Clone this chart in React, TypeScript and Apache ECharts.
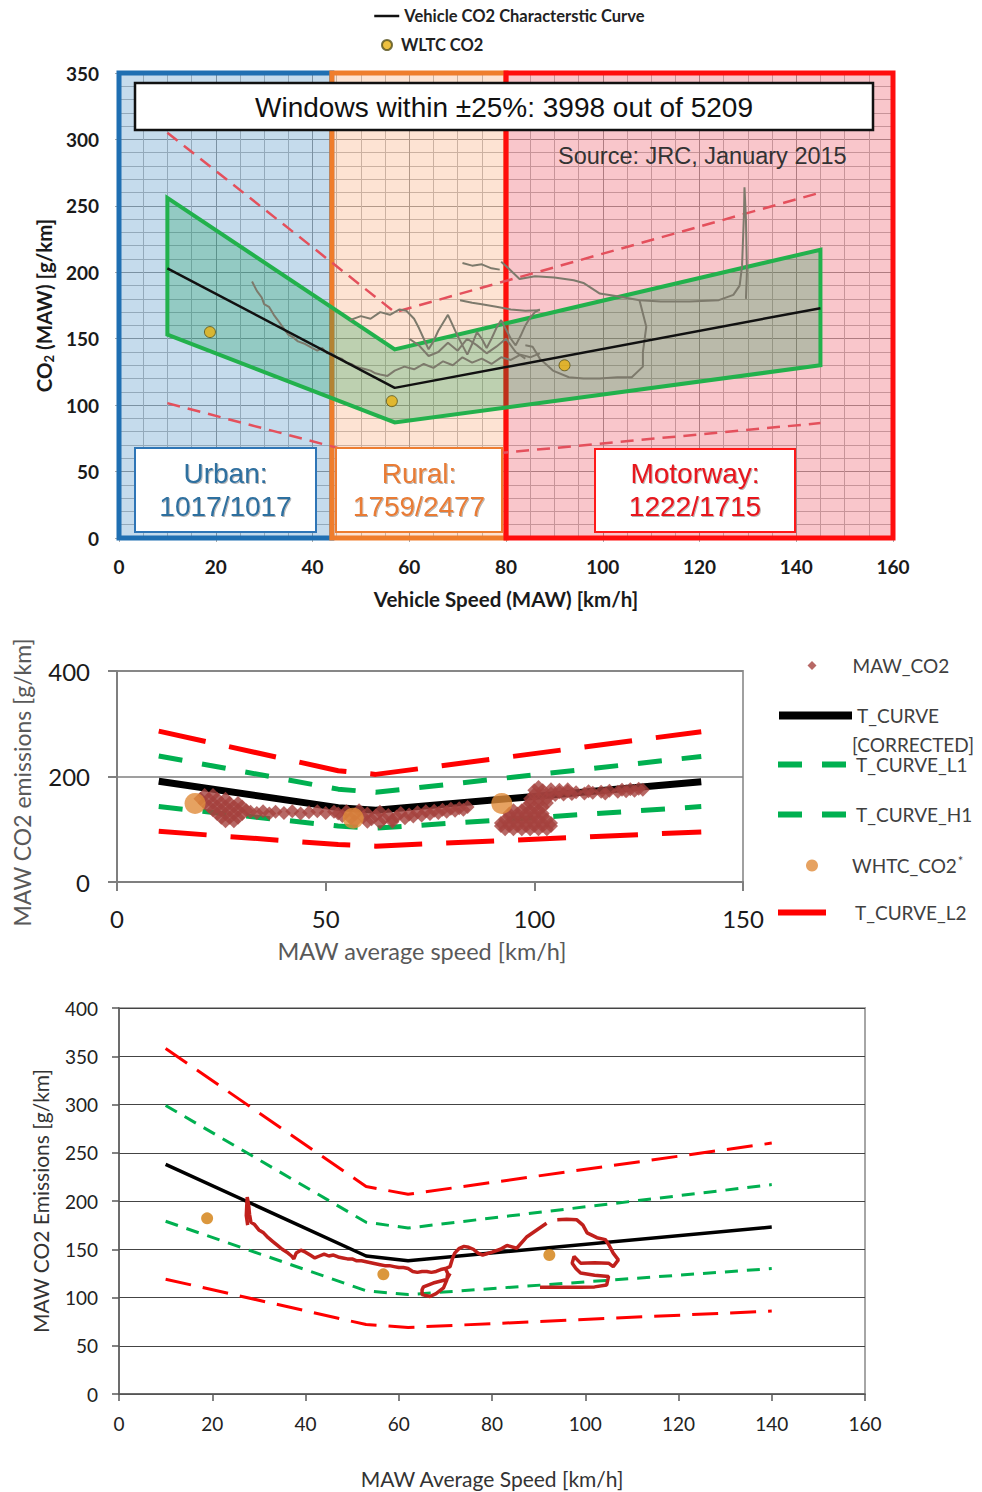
import React, { useEffect, useRef } from "react";
import * as echarts from "echarts";

// ---------- TOP PANEL DATA ----------
const regionBounds = [0, 44, 80, 160];
const topCurve = [[10, 203], [57, 113], [145, 173]];
const topBandUpper = [[10, 256], [57, 142], [145, 217]];
const topBandLower = [[10, 153], [57, 87], [145, 130]];
const topLimitUpper = [[10, 305], [57, 170], [145, 260]];
const topLimitLower = [[10, 101.5], [57, 56.5], [145, 86.5]];
const wltcPoints = [[18.8, 155], [56.4, 103], [92.1, 130]];
const traceUrbanRural = [
  [27.5, 193], [28.5, 186], [29.5, 181], [30, 176], [31, 174], [32, 168], [33, 163], [34, 158], [35, 153],
  [36, 151], [37, 148], [38.5, 146], [40, 143], [41, 141], [42, 143], [43, 139], [44, 139], [45, 136],
  [46, 135], [47, 132], [48, 131], [49, 129], [50, 128], [51, 127], [52, 126], [53, 124], [54, 123],
  [55.5, 122], [57, 126], [59, 129], [61, 127], [63, 131], [65, 128], [67, 133], [69, 130], [71, 136],
  [73, 132], [75, 135], [77, 131], [79, 136], [81, 134], [83, 138], [85, 136], [87, 139],
];
const traceRuralUpper = [
  [47.7, 164], [50, 167], [52, 165], [54, 170], [56, 168], [58, 172], [59.4, 171], [61, 165], [62, 158],
  [63, 150], [64, 142], [65, 148], [66, 156], [67, 162], [68, 168], [69, 160], [70, 152], [71, 145],
  [72, 138], [73, 146], [74, 155], [75, 150], [76, 143], [77, 150], [78, 158], [79, 164], [80, 157],
  [81, 150], [82, 145], [83, 152], [84, 160], [85, 166], [86, 170], [87, 172],
];
const traceRuralMid = [
  [60, 150], [62, 145], [64, 137], [66, 140], [68, 147], [70, 141], [72, 150], [74, 145], [76, 139],
  [78, 144], [80, 150], [82, 140], [84, 135],
];
const traceRuralTop = [[70.5, 179], [73, 177], [75, 176], [78, 174], [81, 172], [84, 171], [87, 171.5]];
const traceMotorwayLow = [
  [84, 145], [85.5, 144], [87, 135], [89.7, 126], [93, 121], [96, 120], [99.4, 120], [103, 121],
  [106, 121], [108.3, 129], [108.3, 140], [109, 159], [107.6, 179],
];
const traceShort = [[71, 207], [73, 205], [75, 206], [77, 203], [78.7, 202]];
const traceMotorwayHigh = [
  [79, 208], [80.5, 203], [82.8, 195], [86, 197], [90, 196], [94, 194], [96, 192], [99.4, 184],
  [103, 182], [107.6, 179], [112, 178], [118, 178], [124, 179], [127, 183], [128.3, 190],
  [128.8, 205], [129, 225], [129.2, 245], [129.3, 264], [129.6, 240], [129.8, 200], [129.6, 180],
];

// ---------- MIDDLE PANEL DATA ----------
const midTCurve = [[10, 191], [53, 141], [62, 136], [140, 190]];
const midUpperRed = [[10, 286], [53, 211], [62, 204], [140, 285]];
const midUpperGreen = [[10, 239], [53, 176], [62, 170], [140, 238]];
const midLowerGreen = [[10, 143], [53, 106], [62, 102], [140, 143]];
const midLowerRed = [[10, 96], [53, 71], [62, 68], [140, 95]];
const midWhtc = [[18.7, 149], [56.6, 121], [92.2, 149]];
const midMaw = [
  // urban blob
  [21, 165], [23, 165], [20, 158], [22, 158], [24, 158], [26, 158], [21, 150], [23, 150], [25, 150], [27, 150],
  [29, 150], [22, 143], [24, 143], [26, 143], [28, 143], [30, 143], [23, 136], [25, 136], [27, 136], [29, 136],
  [31, 136], [24, 129], [26, 129], [28, 129], [30, 129], [25, 122], [27, 122], [29, 122], [26, 115], [28, 115],
  // trail
  [32, 133], [33.5, 131], [35, 134], [36.5, 130], [38, 133], [40, 131], [42, 134], [44, 130], [46, 132],
  [48, 134], [50, 131], [52, 133],
  // rural band
  [53, 130], [54, 125], [55, 134], [56, 121], [57, 128], [58, 136], [59, 123], [60, 130], [61, 119], [62, 126],
  [63, 133], [64, 120], [65, 127], [66, 118], [67, 124], [68, 131], [69, 121], [70, 128], [71, 124], [72, 132],
  [73, 126], [74, 134], [75, 129], [76, 135], [77, 131], [78, 137], [79, 133], [80, 139], [81, 135], [82, 140],
  [83, 137], [84, 142], [57, 115], [60, 114], [63, 113], [66, 114],
  // motorway blob
  [93, 100], [95, 100], [97, 100], [99, 100], [101, 100], [103, 100],
  [92, 106], [94, 106], [96, 106], [98, 106], [100, 106], [102, 106], [104, 106],
  [92, 112], [94, 112], [96, 112], [98, 112], [100, 112], [102, 112], [104, 112],
  [93, 118], [95, 118], [97, 118], [99, 118], [101, 118], [103, 118],
  [94, 124], [96, 124], [98, 124], [100, 124], [102, 124],
  [94, 130], [96, 130], [98, 130], [100, 130], [102, 130],
  [95, 136], [97, 136], [99, 136], [101, 136],
  [98, 142], [100, 142], [102, 142], [99, 150], [101, 150], [103, 150], [99, 158], [101, 158], [103, 158],
  [100, 166], [102, 166], [100, 174], [102, 174], [101, 180],
  // motorway trail
  [104, 168], [105, 165], [106, 170], [107, 166], [108, 172], [109, 167], [110, 170], [112, 168], [113, 172],
  [114, 169], [116, 171], [117, 168], [118, 173], [120, 171], [121, 175], [122, 172], [123, 176], [124, 173],
  [125, 177], [126, 175], [104, 176], [106, 175], [108, 176],
];

// ---------- BOTTOM PANEL DATA ----------
const botTCurve = [[10, 238], [53, 143], [62, 138], [140, 173]];
const botUpperRed = [[10, 358], [53, 215], [62, 207], [140, 260]];
const botUpperGreen = [[10, 299], [53, 178], [62, 172], [140, 217]];
const botLowerGreen = [[10, 179], [53, 107], [62, 103], [140, 130]];
const botLowerRed = [[10, 119], [53, 72], [62, 69], [140, 86]];
const botWhtc = [[18.9, 182], [56.7, 124], [92.3, 144]];
const botTraceA = [
  [27.6, 175], [27.3, 185], [27.4, 195], [27.5, 204], [27.8, 196], [28, 186], [28.3, 178], [29, 176],
  [30, 170], [31, 167], [32, 162], [33, 158], [34, 154], [35, 150], [36, 147], [37, 143], [37.5, 140],
  [38, 146], [39, 149], [40, 147], [41, 144], [42, 141], [43, 143], [44, 145], [45, 143], [46, 144],
  [47, 142], [48, 141], [49, 140], [50, 140], [51, 138], [52, 138], [53, 137], [54, 136], [55, 135],
  [56, 134], [57, 133], [58, 133], [59, 132], [60, 131], [61, 131], [62, 130], [63, 127], [64, 126],
  [65, 127], [66, 127], [67, 126], [68, 127], [69, 129], [70, 130], [71, 132], [71.5, 140], [72, 146],
  [73, 151], [74, 153], [75, 152], [76, 150], [77, 146], [78, 144], [80, 147], [81.8, 150], [83.2, 154],
  [85.3, 151], [87.5, 163], [89.6, 170], [91.7, 177],
];
const botTraceLoop = [
  [70, 130], [70.5, 125], [70.3, 118], [69.6, 110], [68, 104], [66.7, 101], [65, 103], [65, 108],
  [65.3, 111], [67.4, 115], [70.3, 118.6], [71, 125],
];
const botTraceB = [
  [94, 180.5], [96, 181], [98.2, 180.5], [99.5, 175], [100.4, 167], [102.5, 162], [104.3, 160], [105, 155],
  [106, 146], [107.1, 139], [106, 132], [105, 135.6], [102, 136], [99, 135.6], [97.6, 142.5], [97.2, 135.6],
  [98, 130], [99, 125.3], [102, 123], [105, 121.8], [104.6, 113], [102, 111], [99, 110.7], [94, 110.7], [90.3, 110.7],
];

const FONT = "Lato, 'Liberation Sans', sans-serif";

function line(name: string, data: number[][], gi: number, color: string, width: number, dash: any, z = 3) {
  return {
    type: "line",
    name,
    data,
    xAxisIndex: gi,
    yAxisIndex: gi,
    symbol: "none",
    showSymbol: false,
    silent: true,
    z,
    lineStyle: { color, width, type: dash },
    itemStyle: { color },
  };
}

export default function App() {
  const ref = useRef<HTMLDivElement>(null);
  useEffect(() => {
    if (!ref.current) return;
    const chart = echarts.init(ref.current, null, { renderer: "svg" });
    const bandPoly = topBandUpper.concat(topBandLower.slice().reverse());
    const regionStyles = [
      { fill: "rgba(139,183,217,0.5)", border: "#1f6fb2" },
      { fill: "rgba(251,199,167,0.5)", border: "#ef7d2c" },
      { fill: "rgba(243,141,151,0.5)", border: "#ff0d0d" },
    ];
    const markAreaData = regionStyles.map((s, i) => [
      { xAxis: regionBounds[i], yAxis: 0, itemStyle: { color: s.fill, borderColor: s.border, borderWidth: 5 } },
      { xAxis: regionBounds[i + 1], yAxis: 350 },
    ]);
    const lineLegend = (name: string, top: number, width: number, lw: number, extra: any = {}) => ({
      left: 775, top, padding: 0, selectedMode: false, itemWidth: width, itemHeight: 14,
      data: [name], itemStyle: { opacity: 0 }, lineStyle: { width: lw },
      textStyle: { fontFamily: FONT, fontSize: 19, color: "#404040", ...(extra.textStyle || {}) },
      ...(extra.formatter ? { formatter: extra.formatter } : {}),
    });

    const option: any = {
      animation: false,
      grid: [
        { left: 119, top: 73, width: 774, height: 465 },
        { left: 117, top: 671, width: 626, height: 211, show: true, borderColor: "#a0a0a0", borderWidth: 2 },
        { left: 119, top: 1008, width: 746, height: 386, show: true, borderColor: "#a6a6a6", borderWidth: 2 },
      ],
      xAxis: [
        {
          gridIndex: 0, type: "value", min: 0, max: 160, interval: 20,
          axisLine: { show: false },
          axisTick: { show: true, length: 4, lineStyle: { color: "#aaa" } },
          axisLabel: { margin: 19, fontFamily: FONT, fontWeight: "bold", fontSize: 19, color: "#1a1a1a" },
          splitLine: { show: true, lineStyle: { color: "#6b6b6b", width: 1 } },
          minorTick: { show: false, splitNumber: 4 },
          minorSplitLine: { show: true, lineStyle: { color: "#9a9a9a", width: 1 } },
          name: "Vehicle Speed (MAW) [km/h]", nameLocation: "middle", nameGap: 50,
          nameTextStyle: { fontFamily: FONT, fontWeight: "bold", fontSize: 20.5, color: "#1a1a1a" },
        },
        {
          gridIndex: 1, type: "value", min: 0, max: 150, interval: 50,
          axisLine: { show: true, lineStyle: { color: "#7f7f7f", width: 2 } },
          axisTick: { show: true, length: 9, lineStyle: { color: "#7f7f7f", width: 2 } },
          axisLabel: { margin: 24, fontFamily: FONT, fontSize: 24, color: "#1a1a1a" },
          splitLine: { show: false },
          name: "MAW average speed [km/h]", nameLocation: "middle", nameGap: 57,
          nameTextStyle: { fontFamily: FONT, fontSize: 23.5, color: "#595959", padding: [0, 16, 0, 0] },
        },
        {
          gridIndex: 2, type: "value", min: 0, max: 160, interval: 20,
          axisLine: { show: true, lineStyle: { color: "#595959", width: 1.5 } },
          axisTick: { show: true, length: 7, lineStyle: { color: "#595959", width: 1.5 } },
          axisLabel: { margin: 20, fontFamily: FONT, fontSize: 19, color: "#222" },
          splitLine: { show: false },
          name: "MAW Average Speed [km/h]", nameLocation: "middle", nameGap: 74,
          nameTextStyle: { fontFamily: FONT, fontSize: 21, color: "#333" },
        },
      ],
      yAxis: [
        {
          gridIndex: 0, type: "value", min: 0, max: 350, interval: 50,
          axisLine: { show: false },
          axisTick: { show: true, length: 4, lineStyle: { color: "#aaa" } },
          axisLabel: { margin: 20, fontFamily: FONT, fontWeight: "bold", fontSize: 19, color: "#1a1a1a" },
          splitLine: { show: true, lineStyle: { color: "#6b6b6b", width: 1 } },
          minorTick: { show: false, splitNumber: 5 },
          minorSplitLine: { show: true, lineStyle: { color: "#9a9a9a", width: 1 } },
          name: "{b|CO}{s|2}{b| (MAW) [g/km]}", nameLocation: "middle", nameGap: 61,
          nameTextStyle: {
            rich: {
              b: { fontFamily: FONT, fontWeight: "bold", fontSize: 20.5, color: "#1a1a1a" },
              s: { fontFamily: FONT, fontWeight: "bold", fontSize: 13, color: "#1a1a1a", padding: [9, 0, 0, 0] },
            },
          },
        },
        {
          gridIndex: 1, type: "value", min: 0, max: 400, interval: 200,
          axisLine: { show: true, lineStyle: { color: "#7f7f7f", width: 2 } },
          axisTick: { show: true, length: 9, lineStyle: { color: "#7f7f7f", width: 2 } },
          axisLabel: { margin: 27, fontFamily: FONT, fontSize: 24, color: "#1a1a1a" },
          splitLine: { show: true, lineStyle: { color: "#7f7f7f", width: 1.5 } },
          name: "MAW CO2 emissions [g/km]", nameLocation: "middle", nameGap: 84,
          nameTextStyle: { fontFamily: FONT, fontSize: 23, color: "#595959", padding: [0, 12, 0, 0] },
        },
        {
          gridIndex: 2, type: "value", min: 0, max: 400, interval: 50,
          axisLine: { show: true, lineStyle: { color: "#595959", width: 1.5 } },
          axisTick: { show: true, length: 7, lineStyle: { color: "#595959", width: 1.5 } },
          axisLabel: { margin: 21, fontFamily: FONT, fontSize: 19, color: "#222" },
          splitLine: { show: true, lineStyle: { color: "#444", width: 1 } },
          name: "MAW CO2 Emissions [g/km]", nameLocation: "middle", nameGap: 68,
          nameTextStyle: { fontFamily: FONT, fontSize: 21, color: "#333" },
        },
      ],
      legend: [
        {
          left: 373, top: 7.5, padding: 0, selectedMode: false, itemWidth: 25, itemHeight: 16,
          data: ["Vehicle CO2 Characterstic Curve"], itemStyle: { opacity: 0 }, lineStyle: { width: 2.5 },
          textStyle: { fontFamily: FONT, fontWeight: "bold", fontSize: 16.5, color: "#222" },
        },
        {
          left: 381, top: 36.5, padding: 0, selectedMode: false, itemWidth: 10, itemHeight: 10,
          data: ["WLTC CO2"],
          textStyle: { fontFamily: FONT, fontWeight: "bold", fontSize: 16.5, color: "#222", padding: [0, 0, 0, 4] },
        },
        {
          left: 807.5, top: 656, padding: 0, selectedMode: false, itemWidth: 9, itemHeight: 9,
          data: ["MAW_CO2"],
          textStyle: { fontFamily: FONT, fontSize: 19, color: "#404040", padding: [0, 0, 0, 31] },
        },
        lineLegend("T_CURVE [CORRECTED]", 706, 73, 8, { formatter: () => "T_CURVE" }),
        lineLegend("T_CURVE_L1", 755, 73, 6),
        lineLegend("T_CURVE_H1", 805, 73, 6),
        {
          left: 806, top: 854, padding: 0, selectedMode: false, itemWidth: 12, itemHeight: 12,
          data: ["WHTC_CO2*"], formatter: () => "{a|WHTC_CO2}{s|*}",
          textStyle: {
            fontFamily: FONT, fontSize: 19, color: "#404040", padding: [0, 0, 0, 29],
            rich: {
              a: { fontFamily: FONT, fontSize: 19, color: "#404040" },
              s: { fontFamily: FONT, fontSize: 13, color: "#404040", padding: [0, 0, 10, 1] },
            },
          },
        },
        lineLegend("T_CURVE_L2", 903, 50, 6, { textStyle: { padding: [0, 0, 0, 22] } }),
      ],
      graphic: [
        { type: "rect", z: 100, shape: { x: 135, y: 83, width: 738, height: 47 }, style: { fill: "#fff", stroke: "#111", lineWidth: 2.5 } },
        { type: "text", z: 101, x: 504, y: 107, style: { text: "Windows within ±25%: 3998 out of 5209", font: "28px 'Liberation Sans', Arial, sans-serif", fill: "#111", textAlign: "center", textVerticalAlign: "middle" } },
        { type: "text", z: 101, x: 558, y: 156, style: { text: "Source: JRC, January 2015", font: "23.5px 'Liberation Sans', Arial, sans-serif", fill: "#333", textAlign: "left", textVerticalAlign: "middle" } },
        { type: "rect", z: 100, shape: { x: 135, y: 448, width: 181, height: 84 }, style: { fill: "#fff", stroke: "#2e75b6", lineWidth: 2 } },
        { type: "text", z: 101, x: 225.5, y: 490, style: { text: "Urban:\n1017/1017", font: "28px 'Liberation Sans', Arial, sans-serif", lineHeight: 33, fill: "#2f6f9f", textAlign: "center", textVerticalAlign: "middle", textShadowColor: "rgba(0,0,0,0.3)", textShadowOffsetX: 1, textShadowOffsetY: 1, textShadowBlur: 1 } },
        { type: "rect", z: 100, shape: { x: 336, y: 448, width: 166, height: 84 }, style: { fill: "#fff", stroke: "#ed7d31", lineWidth: 2 } },
        { type: "text", z: 101, x: 419, y: 490, style: { text: "Rural:\n1759/2477", font: "28px 'Liberation Sans', Arial, sans-serif", lineHeight: 33, fill: "#e97b35", textAlign: "center", textVerticalAlign: "middle", textShadowColor: "rgba(0,0,0,0.3)", textShadowOffsetX: 1, textShadowOffsetY: 1, textShadowBlur: 1 } },
        { type: "rect", z: 100, shape: { x: 595, y: 449, width: 200, height: 83 }, style: { fill: "#fff", stroke: "#ff1a1a", lineWidth: 2 } },
        { type: "text", z: 101, x: 695, y: 490, style: { text: "Motorway:\n1222/1715", font: "28px 'Liberation Sans', Arial, sans-serif", lineHeight: 33, fill: "#e8141c", textAlign: "center", textVerticalAlign: "middle", textShadowColor: "rgba(0,0,0,0.3)", textShadowOffsetX: 1, textShadowOffsetY: 1, textShadowBlur: 1 } },
        { type: "text", z: 101, x: 852, y: 744, style: { text: "[CORRECTED]", font: `19px ${FONT}`, fill: "#404040", textAlign: "left", textVerticalAlign: "middle" } },
      ],
      series: [
        // ---- top panel ----
        {
          type: "line", name: "regions", xAxisIndex: 0, yAxisIndex: 0, data: [[0, 0], [160, 0]],
          symbol: "none", lineStyle: { width: 0, opacity: 0 }, silent: true, clip: false, z: 1,
          markArea: { silent: true, label: { show: false }, data: markAreaData },
        },
        {
          type: "custom", name: "band", xAxisIndex: 0, yAxisIndex: 0, data: [[0, 0]], z: 2, silent: true,
          renderItem: (_p: any, api: any) => ({
            type: "polygon",
            shape: { points: bandPoly.map((p) => api.coord(p)) },
            style: { fill: "rgba(0,150,70,0.25)", stroke: "#22b14c", lineWidth: 4, lineJoin: "miter" },
          }),
        },
        line("limit upper", topLimitUpper, 0, "#e4505c", 2.5, [13, 8], 3),
        line("limit lower", topLimitLower, 0, "#e4505c", 2.5, [13, 8], 3),
        line("trace 1", traceUrbanRural, 0, "#7d7a6c", 2, "solid", 4),
        line("trace 1b", traceRuralUpper, 0, "#7d7a6c", 2, "solid", 4),
        line("trace 1c", traceRuralMid, 0, "#7d7a6c", 2, "solid", 4),
        line("trace 1d", traceRuralTop, 0, "#7d7a6c", 2, "solid", 4),
        line("trace 2", traceMotorwayLow, 0, "#7d7a6c", 2, "solid", 4),
        line("trace 3", traceShort, 0, "#7d7a6c", 2, "solid", 4),
        line("trace 4", traceMotorwayHigh, 0, "#7d7a6c", 2, "solid", 4),
        line("Vehicle CO2 Characterstic Curve", topCurve, 0, "#111", 2.5, "solid", 5),
        {
          type: "scatter", name: "WLTC CO2", xAxisIndex: 0, yAxisIndex: 0, data: wltcPoints, symbol: "circle",
          symbolSize: 11, z: 6, silent: true,
          itemStyle: { color: "#e8b010", borderColor: "#55501a", borderWidth: 1 },
        },
        // ---- middle panel ----
        line("T_CURVE_H2", midUpperRed, 1, "#ff0000", 5, [48, 24], 3),
        line("T_CURVE_L1", midUpperGreen, 1, "#00b050", 5, [24, 20], 3),
        line("T_CURVE_H1", midLowerGreen, 1, "#00b050", 5, [24, 20], 3),
        line("T_CURVE_L2", midLowerRed, 1, "#ff0000", 5, [48, 24], 3),
        line("T_CURVE [CORRECTED]", midTCurve, 1, "#000", 7, "solid", 3),
        {
          type: "scatter", name: "MAW_CO2", xAxisIndex: 1, yAxisIndex: 1, data: midMaw, symbol: "diamond",
          symbolSize: 14, z: 4, silent: true, itemStyle: { color: "#a5423e" },
        },
        {
          type: "scatter", name: "WHTC_CO2*", xAxisIndex: 1, yAxisIndex: 1, data: midWhtc, symbol: "circle",
          symbolSize: 21, z: 5, silent: true, itemStyle: { color: "#e08b3a" },
        },
        // ---- bottom panel ----
        line("bottom upper red", botUpperRed, 2, "#ff0000", 3, [26, 12], 3),
        line("bottom upper green", botUpperGreen, 2, "#00b050", 3, [13, 9], 3),
        line("bottom lower green", botLowerGreen, 2, "#00b050", 3, [13, 9], 3),
        line("bottom lower red", botLowerRed, 2, "#ff0000", 3, [26, 12], 3),
        line("bottom T curve", botTCurve, 2, "#000", 3.5, "solid", 4),
        line("bottom trace A", botTraceA, 2, "#c0201c", 3.5, "solid", 5),
        line("bottom trace loop", botTraceLoop, 2, "#c0201c", 3.5, "solid", 5),
        line("bottom trace B", botTraceB, 2, "#c0201c", 3.5, "solid", 5),
        {
          type: "scatter", name: "bottom WHTC", xAxisIndex: 2, yAxisIndex: 2, data: botWhtc, symbol: "circle",
          symbolSize: 12, z: 6, silent: true, itemStyle: { color: "#d27d0c" },
        },
      ],
    };
    chart.setOption(option);
    return () => chart.dispose();
  }, []);
  return (
    <div
      ref={ref}
      style={{ position: "absolute", left: 0, top: 0, width: 982, height: 1492, background: "#fff" }}
    />
  );
}
